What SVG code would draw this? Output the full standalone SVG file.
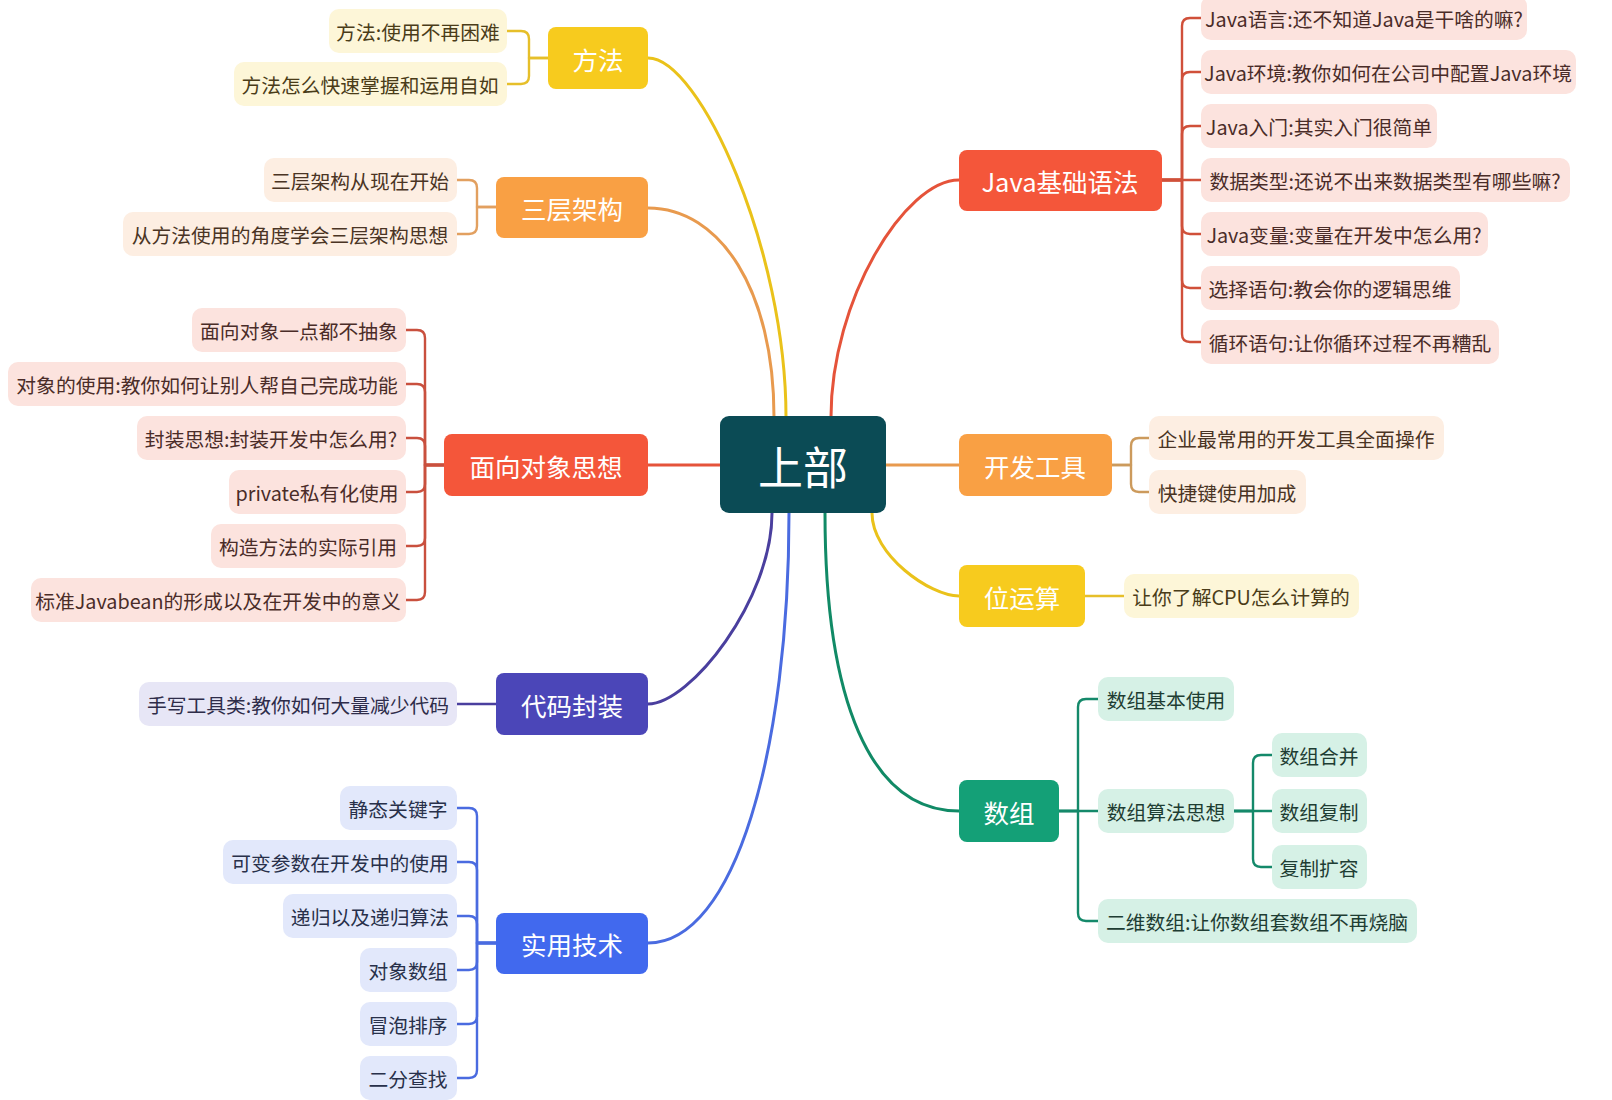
<svg xmlns="http://www.w3.org/2000/svg" width="1612" height="1100" viewBox="0 0 1612 1100">
<style>
text{font-family:"Noto Sans CJK SC","Noto Sans",sans-serif;dominant-baseline:central;text-anchor:middle}
.main text{fill:#fff;font-size:25.5px}
.child text{font-size:19.8px}
.c{fill:none;stroke-linecap:round;stroke-linejoin:round}
.m{stroke-width:3}
.s{stroke-width:2.4}
.yl{fill:#FDF6D8}.yl text{fill:#4A3C18}
.or{fill:#FDEEE2}.or text{fill:#4A3424}
.pk{fill:#FCE3DE}.pk text{fill:#4A2C28}
.in{fill:#E7E6F6}.in text{fill:#2E2C4A}
.bl{fill:#E2E8FB}.bl text{fill:#28304A}
.gr{fill:#D6F1E6}.gr text{fill:#1E3D33}
</style>
<rect width="1612" height="1100" fill="#fff"/>
<g id="connectors">
  <path class="c m" stroke="#EAC21A" d="M786,417 C786,250 700,58 648,58"/>
  <path class="c m" stroke="#E89A4E" d="M774,417 C774,290 720,208 648,208"/>
  <path class="c m" stroke="#E5533A" d="M831,417 C831,300 905,180 959,180"/>
  <path class="c m" stroke="#E5533A" d="M720,465 H648"/>
  <path class="c m" stroke="#E89A4E" d="M886,465 H959"/>
  <path class="c m" stroke="#EAC21A" d="M872,513 C872,555 930,596 959,596"/>
  <path class="c m" stroke="#118A66" d="M825,513 C825,700 870,811 959,811"/>
  <path class="c m" stroke="#4A3F9E" d="M772,513 C772,600 690,704 648,704"/>
  <path class="c m" stroke="#4A6BE0" d="M789,513 C789,750 735,943 648,943"/>
  <g stroke="#E6BF2A" class="c s">
    <path d="M548,58 H529 V39 Q529,31 521,31 H507"/>
    <path d="M548,58 H529 V76 Q529,84 521,84 H507"/>
  </g>
  <g stroke="#E2A060" class="c s">
    <path d="M496,207 H477 V188 Q477,180 469,180 H457"/>
    <path d="M496,207 H477 V226 Q477,234 469,234 H457"/>
  </g>
  <g stroke="#C9503E" class="c s">
    <path d="M444,465 H425 V338 Q425,330 417,330 H406"/>
    <path d="M444,465 H425 V392 Q425,384 417,384 H406"/>
    <path d="M444,465 H425 V446 Q425,438 417,438 H406"/>
    <path d="M444,465 H425 V484 Q425,492 417,492 H406"/>
    <path d="M444,465 H425 V538 Q425,546 417,546 H406"/>
    <path d="M444,465 H425 V592 Q425,600 417,600 H406"/>
  </g>
  <path class="c s" stroke="#4A3F9E" d="M496,704 H457"/>
  <g stroke="#4A6BE0" class="c s">
    <path d="M496,943 H477 V816 Q477,808 469,808 H457"/>
    <path d="M496,943 H477 V870 Q477,862 469,862 H457"/>
    <path d="M496,943 H477 V924 Q477,916 469,916 H457"/>
    <path d="M496,943 H477 V962 Q477,970 469,970 H457"/>
    <path d="M496,943 H477 V1016 Q477,1024 469,1024 H457"/>
    <path d="M496,943 H477 V1070 Q477,1078 469,1078 H457"/>
  </g>
  <g stroke="#D0503A" class="c s">
    <path d="M1162,180 H1182 V26 Q1182,18 1190,18 H1201"/>
    <path d="M1162,180 H1182 V80 Q1182,72 1190,72 H1201"/>
    <path d="M1162,180 H1182 V134 Q1182,126 1190,126 H1201"/>
    <path d="M1162,180 H1201"/>
    <path d="M1162,180 H1182 V226 Q1182,234 1190,234 H1201"/>
    <path d="M1162,180 H1182 V280 Q1182,288 1190,288 H1201"/>
    <path d="M1162,180 H1182 V334 Q1182,342 1190,342 H1201"/>
  </g>
  <g stroke="#CC9A5C" class="c s">
    <path d="M1112,465 H1131 V446 Q1131,438 1139,438 H1149"/>
    <path d="M1112,465 H1131 V484 Q1131,492 1139,492 H1149"/>
  </g>
  <path class="c s" stroke="#E6BF2A" d="M1085,596 H1124"/>
  <g stroke="#14896A" class="c s">
    <path d="M1059,811 H1078 V707 Q1078,699 1086,699 H1098"/>
    <path d="M1059,811 H1098"/>
    <path d="M1059,811 H1078 V913 Q1078,921 1086,921 H1098"/>
    <path d="M1234,811 H1253 V763 Q1253,755 1261,755 H1272"/>
    <path d="M1234,811 H1272"/>
    <path d="M1234,811 H1253 V859 Q1253,867 1261,867 H1272"/>
  </g>
</g>

<g id="center">
  <rect x="720" y="416" width="166" height="97" rx="9" fill="#0B4B55"/>
  <text x="803" y="465" font-size="45" fill="#fff">上部</text>
</g>

<g id="n-fangfa" class="main"><rect x="548" y="27" width="100" height="62" rx="8" fill="#F7CB1E"/><text x="598" y="58">方法</text></g>
<g id="n-sanceng" class="main"><rect x="496" y="177" width="152" height="61" rx="8" fill="#F9A044"/><text x="572" y="207">三层架构</text></g>
<g id="n-mianxiang" class="main"><rect x="444" y="434" width="204" height="62" rx="8" fill="#F4563A"/><text x="546" y="465">面向对象思想</text></g>
<g id="n-daima" class="main"><rect x="496" y="673" width="152" height="62" rx="8" fill="#4B46B8"/><text x="572" y="704">代码封装</text></g>
<g id="n-shiyong" class="main"><rect x="496" y="913" width="152" height="61" rx="8" fill="#4169EE"/><text x="572" y="943">实用技术</text></g>
<g id="n-java" class="main"><rect x="959" y="150" width="203" height="61" rx="8" fill="#F4563A"/><text x="1060" y="180">Java基础语法</text></g>
<g id="n-kaifa" class="main"><rect x="959" y="434" width="153" height="62" rx="8" fill="#F9A044"/><text x="1035" y="465">开发工具</text></g>
<g id="n-weiyunsuan" class="main"><rect x="959" y="565" width="126" height="62" rx="8" fill="#F7CB1E"/><text x="1022" y="596">位运算</text></g>
<g id="n-shuzu" class="main"><rect x="959" y="780" width="100" height="62" rx="8" fill="#14A077"/><text x="1009" y="811">数组</text></g>

<g id="c-ff1" class="child yl"><rect x="329" y="9" width="178" height="44" rx="10"/><text x="418" y="31">方法:使用不再困难</text></g>
<g id="c-ff2" class="child yl"><rect x="234" y="62" width="273" height="44" rx="10"/><text x="370" y="84">方法怎么快速掌握和运用自如</text></g>

<g id="c-sc1" class="child or"><rect x="264" y="158" width="193" height="44" rx="10"/><text x="360" y="180">三层架构从现在开始</text></g>
<g id="c-sc2" class="child or"><rect x="123" y="212" width="334" height="44" rx="10"/><text x="290" y="234">从方法使用的角度学会三层架构思想</text></g>

<g id="c-mx1" class="child pk"><rect x="192" y="308" width="214" height="44" rx="10"/><text x="299" y="330">面向对象一点都不抽象</text></g>
<g id="c-mx2" class="child pk"><rect x="8" y="362" width="398" height="44" rx="10"/><text x="207" y="384">对象的使用:教你如何让别人帮自己完成功能</text></g>
<g id="c-mx3" class="child pk"><rect x="137" y="416" width="269" height="44" rx="10"/><text x="271" y="438">封装思想:封装开发中怎么用?</text></g>
<g id="c-mx4" class="child pk"><rect x="229" y="470" width="177" height="44" rx="10"/><text x="317" y="492">private私有化使用</text></g>
<g id="c-mx5" class="child pk"><rect x="211" y="524" width="195" height="44" rx="10"/><text x="308" y="546">构造方法的实际引用</text></g>
<g id="c-mx6" class="child pk"><rect x="31" y="578" width="375" height="44" rx="10"/><text x="218" y="600">标准Javabean的形成以及在开发中的意义</text></g>

<g id="c-dm1" class="child in"><rect x="139" y="682" width="318" height="44" rx="10"/><text x="298" y="704">手写工具类:教你如何大量减少代码</text></g>

<g id="c-sy1" class="child bl"><rect x="340" y="786" width="117" height="44" rx="10"/><text x="398" y="808">静态关键字</text></g>
<g id="c-sy2" class="child bl"><rect x="223" y="840" width="234" height="44" rx="10"/><text x="340" y="862">可变参数在开发中的使用</text></g>
<g id="c-sy3" class="child bl"><rect x="283" y="894" width="174" height="44" rx="10"/><text x="370" y="916">递归以及递归算法</text></g>
<g id="c-sy4" class="child bl"><rect x="360" y="948" width="97" height="44" rx="10"/><text x="408" y="970">对象数组</text></g>
<g id="c-sy5" class="child bl"><rect x="360" y="1002" width="97" height="44" rx="10"/><text x="408" y="1024">冒泡排序</text></g>
<g id="c-sy6" class="child bl"><rect x="360" y="1056" width="97" height="44" rx="10"/><text x="408" y="1078">二分查找</text></g>

<g id="c-jv1" class="child pk"><rect x="1201" y="-4" width="326" height="44" rx="10"/><text x="1364" y="18">Java语言:还不知道Java是干啥的嘛?</text></g>
<g id="c-jv2" class="child pk"><rect x="1201" y="50" width="375" height="44" rx="10"/><text x="1388" y="72">Java环境:教你如何在公司中配置Java环境</text></g>
<g id="c-jv3" class="child pk"><rect x="1201" y="104" width="236" height="44" rx="10"/><text x="1319" y="126">Java入门:其实入门很简单</text></g>
<g id="c-jv4" class="child pk"><rect x="1201" y="158" width="369" height="44" rx="10"/><text x="1385" y="180">数据类型:还说不出来数据类型有哪些嘛?</text></g>
<g id="c-jv5" class="child pk"><rect x="1201" y="212" width="287" height="44" rx="10"/><text x="1344" y="234">Java变量:变量在开发中怎么用?</text></g>
<g id="c-jv6" class="child pk"><rect x="1201" y="266" width="259" height="44" rx="10"/><text x="1330" y="288">选择语句:教会你的逻辑思维</text></g>
<g id="c-jv7" class="child pk"><rect x="1201" y="320" width="298" height="44" rx="10"/><text x="1350" y="342">循环语句:让你循环过程不再糟乱</text></g>

<g id="c-kf1" class="child or"><rect x="1149" y="416" width="295" height="44" rx="10"/><text x="1296" y="438">企业最常用的开发工具全面操作</text></g>
<g id="c-kf2" class="child or"><rect x="1149" y="470" width="157" height="44" rx="10"/><text x="1227" y="492">快捷键使用加成</text></g>

<g id="c-wy1" class="child yl"><rect x="1124" y="574" width="235" height="44" rx="10"/><text x="1241" y="596">让你了解CPU怎么计算的</text></g>

<g id="c-sz1" class="child gr"><rect x="1098" y="677" width="136" height="44" rx="10"/><text x="1166" y="699">数组基本使用</text></g>
<g id="c-sz2" class="child gr"><rect x="1098" y="789" width="136" height="44" rx="10"/><text x="1166" y="811">数组算法思想</text></g>
<g id="c-sz3" class="child gr"><rect x="1098" y="899" width="319" height="44" rx="10"/><text x="1257" y="921">二维数组:让你数组套数组不再烧脑</text></g>
<g id="c-sz21" class="child gr"><rect x="1272" y="733" width="95" height="44" rx="10"/><text x="1319" y="755">数组合并</text></g>
<g id="c-sz22" class="child gr"><rect x="1272" y="789" width="95" height="44" rx="10"/><text x="1319" y="811">数组复制</text></g>
<g id="c-sz23" class="child gr"><rect x="1272" y="845" width="95" height="44" rx="10"/><text x="1319" y="867">复制扩容</text></g>
</svg>
